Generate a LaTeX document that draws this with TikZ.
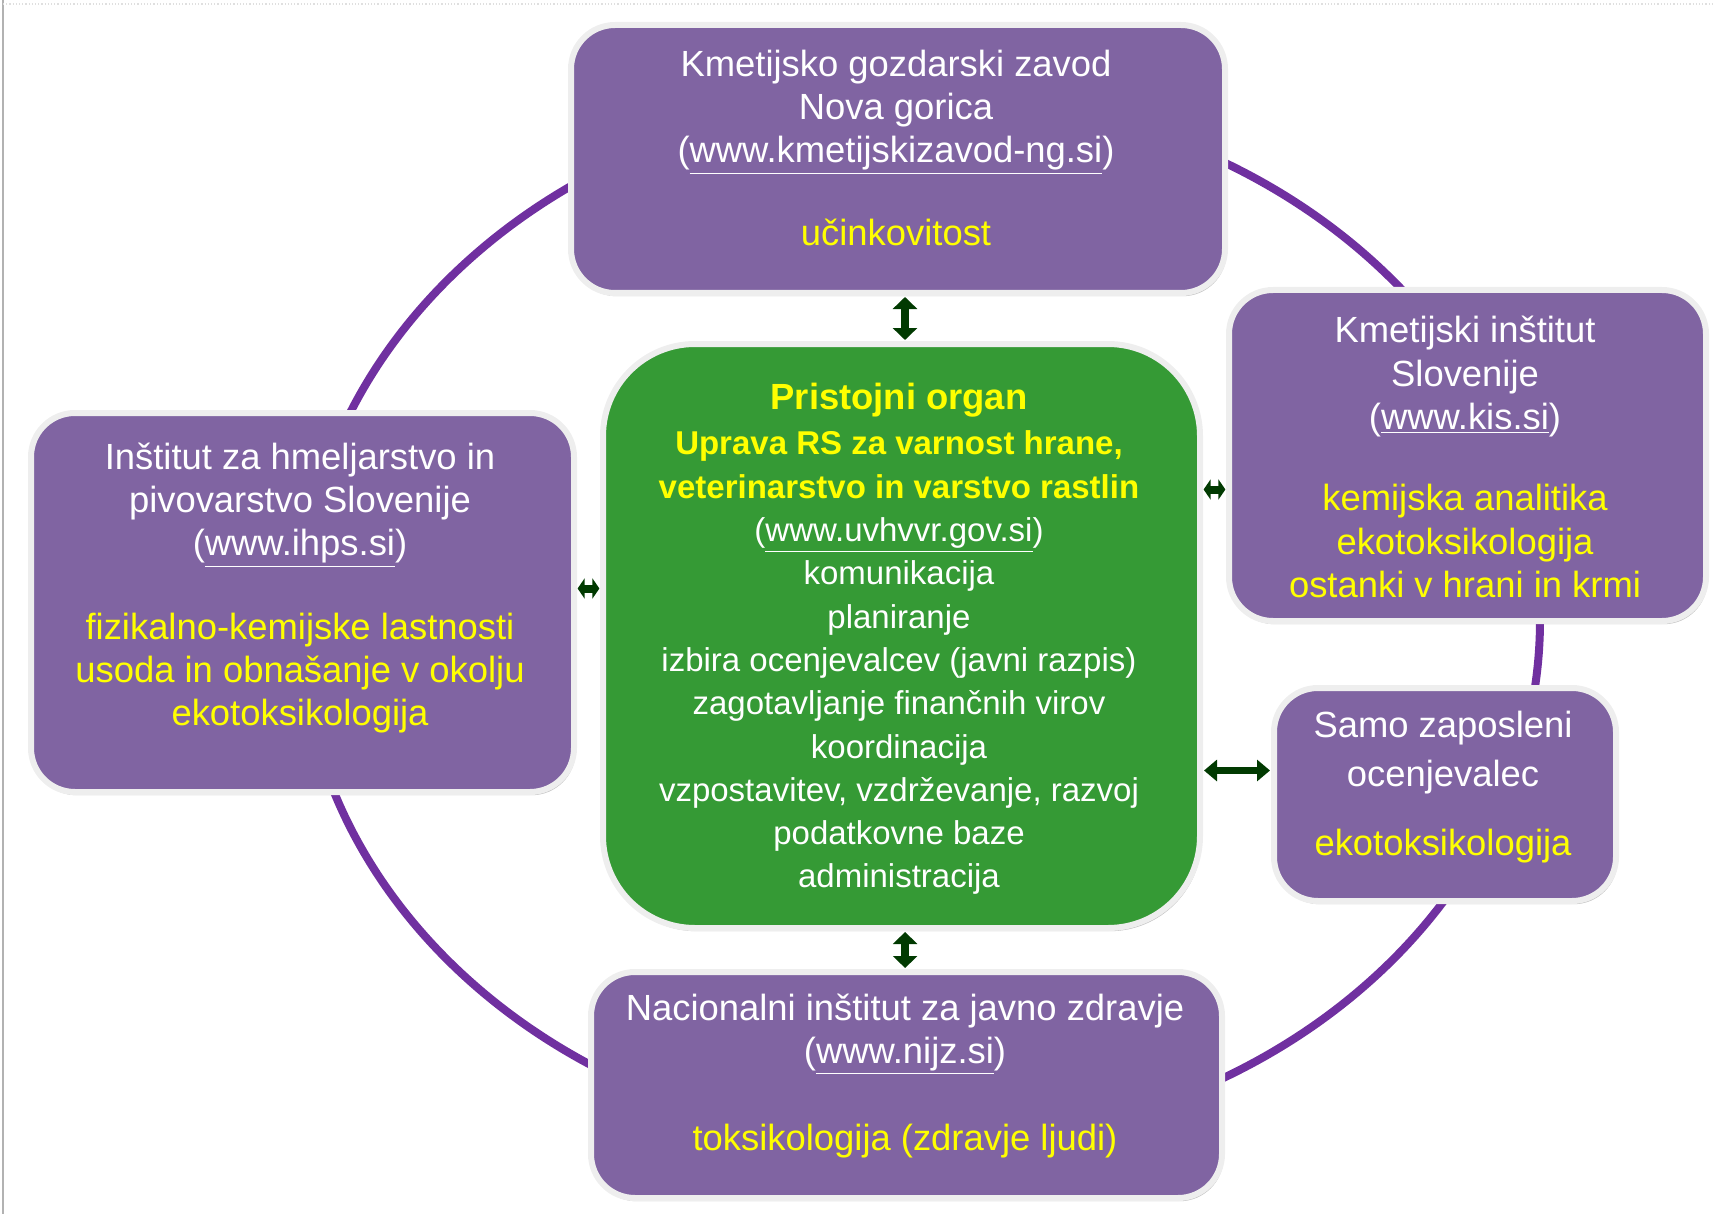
\documentclass[tikz,border=0pt]{standalone}
\usepackage{fontspec}
\setmainfont{Liberation Sans}
\usetikzlibrary{arrows.meta,shadows}
\definecolor{boxpurple}{HTML}{8064A2}
\definecolor{orggreen}{HTML}{359A35}
\definecolor{ringpurple}{HTML}{7030A0}
\definecolor{arrowgreen}{HTML}{013A01}
\definecolor{txtyellow}{HTML}{FFFF00}
\definecolor{rimgray}{HTML}{EEEEEE}
\tikzset{
  box/.style={draw=rimgray, line width=3pt, fill=boxpurple, rounded corners=22pt, inner sep=0pt,
    drop shadow={shadow xshift=0.8pt, shadow yshift=-1.6pt, fill=black, opacity=0.25}},
  orgbox/.style={box, fill=orggreen, rounded corners=46pt},
  txt/.style={text=white, align=center, inner sep=0pt, font=\fontsize{18.2}{21.65}\selectfont},
  orgtxt/.style={txt, font=\fontsize{16.5}{21.65}\selectfont},
  vdbl/.style={{Triangle[width=12pt,length=6pt]}-{Triangle[width=12pt,length=6pt]}, line width=4pt, draw=arrowgreen, shorten <=0.5pt, shorten >=0.5pt},
  hdbl/.style={{Triangle[width=10.5pt,length=6.5pt]}-{Triangle[width=10.5pt,length=6.5pt]}, line width=3.6pt, draw=arrowgreen, shorten <=0.5pt, shorten >=0.5pt},
  tinydbl/.style={{Triangle[width=10pt,length=3.5pt]}-{Triangle[width=10pt,length=3.5pt]}, line width=4pt, draw=arrowgreen, shorten <=0.3pt, shorten >=0.3pt},
}
\newcommand{\yel}[1]{\textcolor{txtyellow}{#1}}
\begin{document}
\begin{tikzpicture}[x=0.5pt,y=-0.5pt]
\useasboundingbox (0,0) rectangle (1713,1214);
\draw[gray!60, line width=0.6pt] (3,0) -- (3,1214);
\draw[gray!25, densely dotted, line width=0.6pt] (3,4) -- (1713,4);
\draw[ringpurple, line width=4pt] (920,620) ellipse [x radius=620, y radius=525];

\node[box, minimum width=327pt, minimum height=134pt] (kgz) at (898,159) {};
\node[box, minimum width=238.5pt, minimum height=165.5pt] (kis) at (1467.5,455.5) {};
\node[box, minimum width=171pt, minimum height=106.5pt] (samo) at (1445,794.5) {};
\node[box, minimum width=271.5pt, minimum height=189.5pt] (ihps) at (302.5,602.5) {};
\node[box, minimum width=315.5pt, minimum height=113pt] (nijz) at (906.5,1085) {};
\node[orgbox, minimum width=298.5pt, minimum height=292pt] (org) at (901.5,636) {};

\node[txt] (kgz-t) at (896,148) {Kmetijsko gozdarski zavod\\ Nova gorica\\ (\underline{www.kmetijskizavod-ng.si})\\[20pt] \yel{učinkovitost}};
\node[txt] (kis-t) at (1465,457) {Kmetijski inštitut\\ Slovenije\\ (\underline{www.kis.si})\\[19pt] \yel{kemijska analitika}\\ \yel{ekotoksikologija}\\ \yel{ostanki v hrani in krmi}};
\node[txt] (samo-t) at (1443,787) {Samo zaposleni\\[3pt] ocenjevalec\\[13pt] \yel{ekotoksikologija}};
\node[txt] (ihps-t) at (300,588) {Inštitut za hmeljarstvo in\\ pivovarstvo Slovenije\\ (\underline{www.ihps.si})\\[20pt] \yel{fizikalno-kemijske lastnosti}\\ \yel{usoda in obnašanje v okolju}\\ \yel{ekotoksikologija}};
\node[txt] (nijz-t) at (905,1076) {Nacionalni inštitut za javno zdravje\\ (\underline{www.nijz.si})\\[22pt] \yel{toksikologija (zdravje ljudi)}};
\node[orgtxt] (org-t) at (899,639) {\yel{\fontsize{18.2}{21.65}\selectfont\bfseries Pristojni organ}\\[1pt]
  \yel{\bfseries Uprava RS za varnost hrane,}\\ \yel{\bfseries veterinarstvo in varstvo rastlin}\\
  (\underline{www.uvhvvr.gov.si})\\ komunikacija\\ planiranje\\ izbira ocenjevalcev (javni razpis)\\
  zagotavljanje finančnih virov\\ koordinacija\\ vzpostavitev, vzdrževanje, razvoj\\ podatkovne baze\\ administracija};

\draw[vdbl] ([xshift=3.5pt]kgz.south) -- ([xshift=3.5pt]kgz.south |- org.north);
\draw[vdbl] ([xshift=1.8pt]org.south) -- ([xshift=1.8pt]org.south |- nijz.north);
\draw[tinydbl] ([yshift=7pt]ihps.east) -- ([yshift=7pt]ihps.east -| org.west);
\draw[tinydbl] ([yshift=-17pt]kis.west -| org.east) -- ([yshift=-17pt]kis.west);
\draw[hdbl] ([yshift=12pt]samo.west -| org.east) -- ([yshift=12pt]samo.west);
\end{tikzpicture}
\end{document}
